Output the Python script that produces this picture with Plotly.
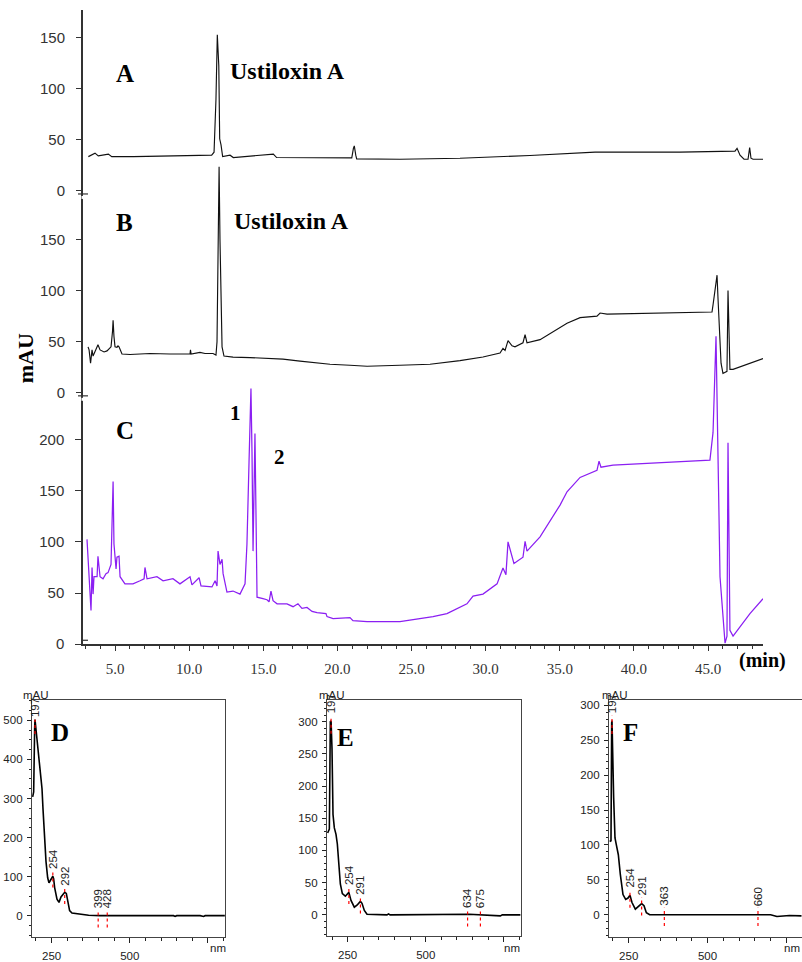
import plotly.graph_objects as go

# ---------------- chromatogram data (time / min, absorbance / mAU) ----------------
A_time = [3.20, 3.65, 3.87, 4.55, 4.78, 6.24, 9.83, 11.52, 11.68, 11.81, 11.90, 12.00, 12.06, 12.15, 12.26,
          12.76, 12.98, 15.68, 15.90, 20.97, 21.08, 21.14, 21.24, 21.30, 24.22, 28.27, 32.99, 37.38, 43.11,
          46.82, 46.96, 47.16, 47.43, 47.70, 47.81, 47.90, 48.04, 48.78]
A_mAU = [33.6, 37, 34.3, 36, 33.6, 33.6, 34.6, 35, 37.9, 90, 152.7, 122.6, 51, 45, 33.7,
         35, 32.7, 36, 32.7, 32.4, 41.7, 44, 35, 31.4, 31, 32, 34.7, 38, 38,
         39, 41.7, 35, 31, 31, 42.4, 32, 31, 31]

B_time = [3.18, 3.25, 3.35, 3.45, 3.52, 3.65, 3.85, 3.99, 4.26, 4.46, 4.73, 4.83, 4.87, 4.93, 5.00,
          5.13, 5.20, 5.27, 5.47, 6.01, 7.36, 8.71, 10.06, 10.09, 10.13, 10.73, 11.07, 11.61, 11.81, 11.88,
          11.95, 12.02, 12.08, 12.15, 12.22, 12.35, 12.96, 14.11, 15.12, 16.33, 17.48, 18.63, 19.50, 20.85,
          22.00, 24.22, 26.25, 28.27, 29.82, 30.97, 31.17, 31.31, 31.51, 31.78, 31.98, 32.52, 32.66, 32.79,
          33.67, 35.49, 36.37, 37.51, 37.72, 38.19, 41.56, 44.80, 45.27, 45.34, 45.47, 45.61, 45.67, 45.88,
          46.01, 46.28, 46.35, 46.48, 46.69, 47.83, 48.71]
B_mAU = [45, 42, 29, 42, 36, 40, 47, 42, 40, 41, 45, 60, 71, 55, 45,
         44.5, 46, 45, 38, 37.5, 38.5, 38, 38, 42, 38, 39.5, 38.5, 38.5, 37, 50,
         150, 221, 150, 80, 45, 36, 35, 34.5, 34, 33, 31, 29, 28, 27,
         26, 27, 28, 31.5, 35, 39, 43.5, 41.5, 51, 46, 45, 49, 57, 49,
         52, 68, 73.5, 75, 78, 77, 78, 79, 79, 86, 103, 115, 94, 29,
         19, 21, 100, 23, 23, 29, 33.5]

C_time = [3.11, 3.18, 3.25, 3.38, 3.45, 3.52, 3.58, 3.79, 3.85, 3.99, 4.19, 4.39, 4.53, 4.73, 4.87,
          4.93, 5.07, 5.13, 5.27, 5.34, 5.67, 6.21, 6.69, 6.96, 7.02, 7.16, 7.83, 8.24, 8.91, 9.38,
          10.06, 10.19, 10.67, 10.80, 11.54, 11.75, 11.88, 11.95, 12.08, 12.22, 12.29, 12.55, 12.96, 13.43,
          13.77, 13.90, 14.04, 14.17, 14.24, 14.31, 14.44, 14.51, 14.58, 14.98, 15.25, 15.39, 15.52, 15.66,
          15.93, 16.60, 17.01, 17.34, 17.61, 17.95, 18.29, 18.63, 19.23, 19.30, 19.71, 20.85, 21.05, 22.00,
          24.22, 26.45, 27.39, 28.74, 29.15, 29.82, 30.77, 31.17, 31.37, 31.51, 31.71, 31.91, 32.52, 32.66,
          32.79, 33.67, 35.02, 35.49, 36.37, 37.51, 37.65, 37.78, 38.59, 42.23, 45.13, 45.34, 45.54, 45.67,
          45.81, 46.15, 46.28, 46.35, 46.48, 46.69, 47.83, 48.71]
C_mAU = [102.5, 85, 69, 33, 75, 49, 66, 66, 86, 66, 64, 69, 70, 78, 159,
         98, 73.5, 85, 86, 66, 59, 59, 62, 64, 75, 64, 66, 62, 64, 59,
         66, 58, 65, 57, 56, 62, 57, 91, 78, 83, 69, 51, 52, 49,
         59, 98, 178, 250, 188, 91, 206, 98, 46, 44.5, 43.5, 41.5, 52, 42.5,
         39.5, 39.5, 36.7, 39.5, 35, 36, 32, 31, 30, 27, 25, 26, 23, 22,
         22, 27, 30, 39.5, 47, 49, 59, 74.5, 68, 100, 88, 79, 85, 100.6,
         91, 105, 136, 149, 163, 170, 179, 173, 175, 178, 180, 207, 301, 188,
         66, 1, 8, 197, 13.5, 8, 30, 44.5]

TIME_TICKS = [5, 10, 15, 20, 25, 30, 35, 40, 45]
TIME_TICK_TEXT = ["5.0", "10.0", "15.0", "20.0", "25.0", "30.0", "35.0", "40.0", "45.0"]
C_TICKS = [0, 50, 100, 150, 200]
AB_TICKS = [0, 50, 100, 150]

# ---------------- UV spectra data (wavelength / nm, absorbance / mAU) ----------------
D_nm = [189.5, 192.7, 195.9, 197, 201.2, 205.5, 211.9, 216.2, 219.4, 222.5, 226.8, 232.1, 237.5, 241.7,
        246.0, 250.5, 254, 256.6, 259.8, 267.3, 273.7, 280.1, 288.6, 292, 297.1, 302.4, 307.7, 315.2,
        341.8, 368.4, 405.7, 640, 645, 650, 725, 736, 741, 804]
D_mAU = [304, 317, 480, 502, 469, 427, 384, 350, 325, 274, 207, 139, 97, 84,
         90, 99, 101, 95, 72, 42, 34, 48, 59, 60, 57, 38, 13, 7,
         4, 1, 0, 0, -2, 0, 0, -2, 0, 0]
D_peaks = [197, 254, 292, 399, 428]
D_mark_top = [502, 114, 72, 13, 13]
D_mark_bottom = [465, 72, 30, -30, -30]

E_nm = [186.1, 191.5, 194.7, 197, 200, 203.2, 207.5, 212.8, 217.1, 221.4, 226.7, 233.1, 242.7, 254,
        260.8, 271.5, 280, 291, 296, 303.5, 312, 376, 381, 386, 440, 600, 639, 739, 745, 803]
E_mAU = [127, 133, 300, 301, 258, 156, 135, 125, 110, 74, 48, 33, 29, 35,
         22.5, 12, 15, 21, 18, 7, 1, 0, 1.5, 0, 0, 0, 1, -1.5, 0, 0]
E_peaks = [197, 254, 291, 634, 675]
E_mark_top = [309, 43, 28, 7, 7]
E_mark_bottom = [281, 17, 2, -18, -18]

F_nm = [189.6, 193.8, 196, 197, 202.3, 206.5, 210.8, 217.1, 223.4, 231.9, 240.4, 247.8, 254, 260.4,
        271, 279.5, 291, 298.5, 306, 316.5, 400, 520, 560, 700, 720, 740, 760, 798]
F_mAU = [105, 106, 275, 278, 167, 110, 100, 86, 58, 29, 22, 24, 28, 17.5,
         8, 11, 16, 13, 3, 0, 0, 0, 1, 0, -2.5, -2, -1, -1.5]
F_peaks = [197, 254, 291, 363, 660]
F_mark_top = [285, 36, 25, 10, 10]
F_mark_bottom = [259, 10, -1, -16, -16]

# ---------------- geometry helpers ----------------
W, H = 802, 962


def fx(p):
    return p / W


def fy(p):
    return 1 - p / H


PURPLE = "#8B1FF2"
AXC = "#333333"
SERIF = "Liberation Serif, Times New Roman, serif"
SANS = "Liberation Sans, Arial, sans-serif"

MAIN_L, MAIN_R, MAIN_T, MAIN_B = 83, 763, 10, 651
PX_PER_MAU = 1.034
SPAN = (MAIN_B - MAIN_T) / PX_PER_MAU
ZERO_C, ZERO_B, ZERO_A = 651, 397, 193


def yrange(zero_px):
    off = (MAIN_B - zero_px) / PX_PER_MAU
    return [-off, SPAN - off]


fig = go.Figure()

fig.add_trace(go.Scatter(x=C_time, y=C_mAU, mode="lines", line=dict(color=PURPLE, width=1.25),
                         xaxis="x", yaxis="y", hoverinfo="skip", showlegend=False))
fig.add_trace(go.Scatter(x=B_time, y=B_mAU, mode="lines", line=dict(color="#111111", width=1.15),
                         xaxis="x", yaxis="y2", hoverinfo="skip", showlegend=False))
fig.add_trace(go.Scatter(x=A_time, y=A_mAU, mode="lines", line=dict(color="#111111", width=1.15),
                         xaxis="x", yaxis="y3", hoverinfo="skip", showlegend=False))

main_tickfont = dict(family=SANS, size=15, color=AXC)
common_y = dict(domain=[fy(MAIN_B), fy(MAIN_T)], showgrid=False, zeroline=False, ticks="outside",
                ticklen=6, tickwidth=1.2, tickcolor=AXC, tickfont=main_tickfont, ticklabelstandoff=8,
                tickmode="array", anchor="x", fixedrange=True)

layout = dict(
    width=W, height=H, margin=dict(l=0, r=0, t=0, b=0),
    paper_bgcolor="white", plot_bgcolor="rgba(0,0,0,0)",
    showlegend=False,
    xaxis=dict(domain=[fx(MAIN_L), fx(MAIN_R)], range=[2.84, 48.71], anchor="y",
               tickmode="array", tickvals=TIME_TICKS, ticktext=TIME_TICK_TEXT,
               ticks="outside", ticklen=5, tickwidth=1.2, tickcolor=AXC,
               showline=True, linecolor=AXC, linewidth=1.5, showgrid=False, zeroline=False,
               tickfont=dict(family=SERIF, size=15, color=AXC), ticklabelstandoff=5,
               minor=dict(tickmode="linear", tick0=0, dtick=1, ticklen=3, ticks="outside",
                          tickcolor=AXC, showgrid=False),
               fixedrange=True),
    yaxis=dict(**common_y, range=yrange(ZERO_C), tickvals=C_TICKS, showline=True,
               linecolor=AXC, linewidth=1.5),
    yaxis2=dict(**common_y, range=yrange(ZERO_B), tickvals=AB_TICKS, overlaying="y", showline=False),
    yaxis3=dict(**common_y, range=yrange(ZERO_A), tickvals=AB_TICKS, overlaying="y", showline=False),
)

shapes = []
annotations = []

# axis break marks on the main y axis
for zp in (ZERO_A, ZERO_B):
    shapes.append(dict(type="line", xref="paper", yref="paper", x0=fx(MAIN_L - 5), x1=fx(MAIN_L + 5),
                       y0=fy(zp + 3), y1=fy(zp + 3), line=dict(color=AXC, width=1.2)))
    shapes.append(dict(type="line", xref="paper", yref="paper", x0=fx(MAIN_L), x1=fx(MAIN_L),
                       y0=fy(zp + 5), y1=fy(zp + 8), line=dict(color="white", width=3)))
shapes.append(dict(type="line", xref="paper", yref="paper", x0=fx(MAIN_L), x1=fx(MAIN_L + 5),
                   y0=fy(ZERO_C - 4), y1=fy(ZERO_C - 4), line=dict(color=AXC, width=1.2)))


def ann_px(text, x, y, size, family=SERIF, bold=True, xanchor="center", yanchor="middle", angle=0, color="black"):
    annotations.append(dict(text=("<b>%s</b>" % text) if bold else text, x=fx(x), y=fy(y),
                            xref="paper", yref="paper", showarrow=False, xanchor=xanchor, yanchor=yanchor,
                            textangle=angle, font=dict(family=family, size=size, color=color)))


ann_px("A", 125, 74, 25)
ann_px("Ustiloxin A", 228, 72, 24, xanchor="left")
ann_px("B", 124, 225, 25)
ann_px("Ustiloxin A", 232, 223, 24, xanchor="left")
ann_px("C", 125, 435, 25)
ann_px("1", 235, 417, 21)
ann_px("2", 279, 462, 21)
ann_px("mAU", 25, 362, 22, angle=-90)
ann_px("(min)", 762, 667, 20)

# ---------------- spectra panels ----------------
panels = [
    dict(letter="D", nm=D_nm, mau=D_mAU, peaks=D_peaks, top=D_mark_top, bot=D_mark_bottom,
         xa="xaxis2", ya="yaxis4", xr="x2", yr="y4", box=(32, 225, 707, 947),
         xrange=[187.4, 804.5], yrange=[-55, 553], yticks=[0, 100, 200, 300, 400, 500], yminor=25,
         mirror_y=True, letter_pos=(60, 740), mau_pos=36, nm_pos=218),
    dict(letter="E", nm=E_nm, mau=E_mAU, peaks=E_peaks, top=E_mark_top, bot=E_mark_bottom,
         xa="xaxis3", ya="yaxis5", xr="x3", yr="y5", box=(327, 521, 707, 946),
         xrange=[184, 805], yrange=[-33, 334], yticks=[0, 50, 100, 150, 200, 250, 300], yminor=10,
         mirror_y=True, letter_pos=(345, 745), mau_pos=332, nm_pos=512),
    dict(letter="F", nm=F_nm, mau=F_mAU, peaks=F_peaks, top=F_mark_top, bot=F_mark_bottom,
         xa="xaxis4", ya="yaxis6", xr="x4", yr="y6", box=(609, 802, 707, 947),
         xrange=[187.5, 799.6], yrange=[-32, 308], yticks=[0, 50, 100, 150, 200, 250, 300], yminor=10,
         mirror_y=False, letter_pos=(630, 740), mau_pos=615, nm_pos=792),
]

spec_font = dict(family=SANS, size=11.5, color="#222222")
for p in panels:
    l, r, t, b = p["box"]
    fig.add_trace(go.Scatter(x=p["nm"], y=p["mau"], mode="lines", line=dict(color="black", width=1.6),
                             xaxis=p["xr"], yaxis=p["yr"], hoverinfo="skip", showlegend=False))
    layout[p["xa"]] = dict(domain=[fx(l), fx(r)], range=p["xrange"], anchor=p["yr"],
                           tickmode="array", tickvals=[250, 500, 750], ticktext=["250", "500", ""],
                           ticks="outside", ticklen=5, tickwidth=1, tickcolor="#222",
                           showline=True, mirror=True, linecolor="#444", linewidth=1.3,
                           showgrid=False, zeroline=False, tickfont=spec_font, ticklabelstandoff=3,
                           minor=dict(tickmode="linear", tick0=0, dtick=50, ticklen=3, ticks="outside",
                                      tickcolor="#222", showgrid=False),
                           fixedrange=True)
    layout[p["ya"]] = dict(domain=[fy(b), fy(t)], range=p["yrange"], anchor=p["xr"],
                           tickmode="array", tickvals=p["yticks"],
                           ticks="outside", ticklen=4, tickwidth=1, tickcolor="#222",
                           showline=True, mirror=p["mirror_y"], linecolor="#444", linewidth=1.3,
                           showgrid=False, zeroline=False, tickfont=spec_font, ticklabelstandoff=2,
                           minor=dict(tickmode="linear", tick0=0, dtick=p["yminor"], ticklen=2,
                                      ticks="outside", tickcolor="#222", showgrid=False),
                           fixedrange=True)
    for pk, y1, y0 in zip(p["peaks"], p["top"], p["bot"]):
        shapes.append(dict(type="line", xref=p["xr"], yref=p["yr"], x0=pk, x1=pk, y0=y0, y1=y1,
                           line=dict(color="red", width=1.2, dash="dot")))
        annotations.append(dict(text=str(pk), x=pk, y=y1, xref=p["xr"], yref=p["yr"], showarrow=False,
                                textangle=-90, xanchor="center", yanchor="bottom",
                                font=dict(family=SANS, size=11.5, color="#222")))
    ann_px(p["letter"], p["letter_pos"][0], p["letter_pos"][1], 25)
    ann_px("mAU", p["mau_pos"], 702, 11.5, family=SANS, bold=False, color="#222")
    ann_px("nm", p["nm_pos"], 958, 11.5, family=SANS, bold=False, color="#222")

layout["shapes"] = shapes
layout["annotations"] = annotations
fig.update_layout(**layout)

fig.write_html("out.html", config={"displayModeBar": False},
               post_script="document.body.style.margin='0px';document.body.style.overflow='hidden';")
